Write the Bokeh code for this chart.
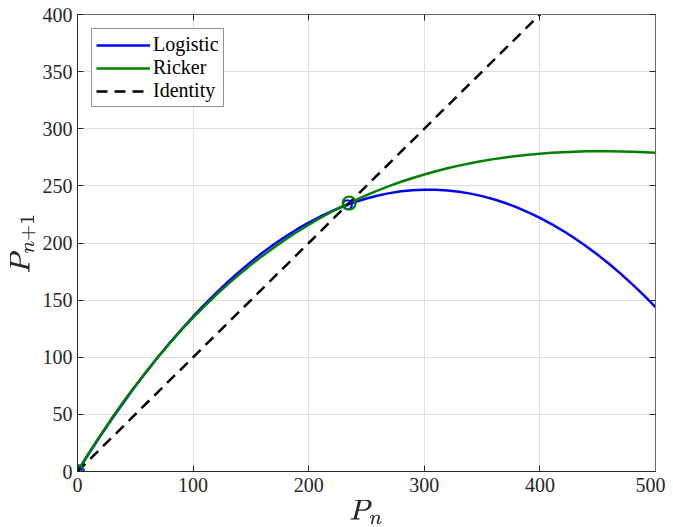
from bokeh.plotting import figure
from bokeh.models import Range1d, LinearAxis, FixedTicker, Legend, LegendItem
from bokeh.embed import file_html
from bokeh.resources import INLINE

# Population values P_n
pn = [0, 10, 20, 30, 40, 50, 60, 70, 80, 90, 100,
      110, 120, 130, 140, 150, 160, 170, 180, 190, 200,
      210, 220, 230, 240, 250, 260, 270, 280, 290, 300,
      310, 320, 330, 340, 350, 360, 370, 380, 390, 400,
      410, 420, 430, 440, 450, 460, 470, 480, 490, 500]
logistic = [0.0, 15.97, 31.41, 46.32, 60.68, 74.52, 87.82, 100.59, 112.82, 124.51, 135.68,
            146.30, 156.40, 165.96, 174.98, 183.47, 191.43, 198.85, 205.73, 212.09, 217.90,
            223.19, 227.94, 232.15, 235.83, 238.98, 241.59, 243.66, 245.20, 246.21, 246.68,
            246.62, 246.03, 244.90, 243.23, 241.03, 238.30, 235.03, 231.23, 226.89, 222.02,
            216.61, 210.67, 204.19, 197.18, 189.64, 181.56, 172.95, 163.80, 154.12, 143.90]
ricker = [0.0, 16.41, 32.10, 47.11, 61.44, 75.13, 88.20, 100.66, 112.53, 123.84, 134.61,
          144.84, 154.57, 163.80, 172.56, 180.86, 188.72, 196.15, 203.17, 209.79, 216.02,
          221.88, 227.39, 232.55, 237.37, 241.88, 246.08, 249.98, 253.60, 256.93, 260.01,
          262.82, 265.40, 267.73, 269.84, 271.73, 273.41, 274.88, 276.16, 277.26, 278.18,
          278.93, 279.51, 279.93, 280.21, 280.34, 280.33, 280.18, 279.92, 279.53, 279.02]
identity_x = [0, 500]
identity_y = [0, 500]
fixed_logistic_x = [0, 233.5]
fixed_logistic_y = [0, 233.5]
fixed_ricker_x = [0, 235]
fixed_ricker_y = [0, 235]
x_ticks = [0, 100, 200, 300, 400, 500]
y_ticks = [0, 50, 100, 150, 200, 250, 300, 350, 400]
series_names = ["Logistic", "Ricker", "Identity"]

FONT = "Liberation Serif"
AX = "#262626"

p = figure(frame_width=578, frame_height=457,
           x_range=Range1d(0, 500), y_range=Range1d(0, 400),
           output_backend="svg", toolbar_location=None,
           min_border_left=77, min_border_right=10,
           min_border_top=14, min_border_bottom=46)
p.outline_line_color = None
p.background_fill_color = "white"
p.border_fill_color = "white"

l1 = p.line(pn, logistic, line_color="#0000ff", line_width=2.5)
l2 = p.line(pn, ricker, line_color="#008000", line_width=2.5)
l3 = p.line(identity_x, identity_y, line_color="black", line_width=2.5, line_dash="11 7")
p.scatter(fixed_logistic_x, fixed_logistic_y, marker="circle", size=9,
          fill_color=None, line_color="#0000ff", line_width=2)
p.scatter(fixed_ricker_x, fixed_ricker_y, marker="circle", size=13,
          fill_color=None, line_color="#008000", line_width=2.2)

for ax, ticks in ((p.xaxis[0], x_ticks), (p.yaxis[0], y_ticks)):
    ax.ticker = FixedTicker(ticks=ticks)
    ax.major_tick_in = 6
    ax.major_tick_out = 0
    ax.minor_tick_in = 0
    ax.minor_tick_out = 0
    ax.axis_line_color = AX
    ax.major_tick_line_color = AX
    ax.major_label_text_font = FONT
    ax.major_label_text_font_size = "20px"
    ax.major_label_text_color = AX
    ax.major_label_standoff = 6
    ax.axis_label_text_font_size = "24px"
    ax.axis_label_text_color = AX
    ax.axis_label_standoff = 3

p.xaxis[0].axis_label = r"$$P_n$$"
p.xaxis[0].axis_label_standoff = 5
p.yaxis[0].axis_label = r"$$P_{n+1}$$"
p.yaxis[0].major_label_standoff = 5

for loc, ticks in (("above", x_ticks), ("right", y_ticks)):
    ax = LinearAxis(ticker=FixedTicker(ticks=ticks))
    ax.major_tick_in = 6
    ax.major_tick_out = 0
    ax.minor_tick_in = 0
    ax.minor_tick_out = 0
    ax.axis_line_color = "#6a6a6a"
    ax.major_tick_line_color = AX
    ax.major_label_overrides = {t: "" for t in ticks}
    ax.major_label_standoff = 0
    p.add_layout(ax, loc)

p.xgrid.ticker = FixedTicker(ticks=x_ticks)
p.ygrid.ticker = FixedTicker(ticks=y_ticks)
p.xgrid.grid_line_color = "#dfdfdf"
p.ygrid.grid_line_color = "#dfdfdf"

legend = Legend(items=[LegendItem(label=series_names[0], renderers=[l1]),
                       LegendItem(label=series_names[1], renderers=[l2]),
                       LegendItem(label=series_names[2], renderers=[l3])],
                location="top_left", margin=14, padding=4, spacing=0,
                label_height=22, glyph_height=22, glyph_width=54, label_standoff=3,
                label_text_font=FONT, label_text_font_size="20px",
                label_text_color="black",
                border_line_color=AX, border_line_width=1,
                background_fill_color="white", background_fill_alpha=1.0)
p.add_layout(legend)

open("out.html", "w").write(file_html(p, INLINE))
